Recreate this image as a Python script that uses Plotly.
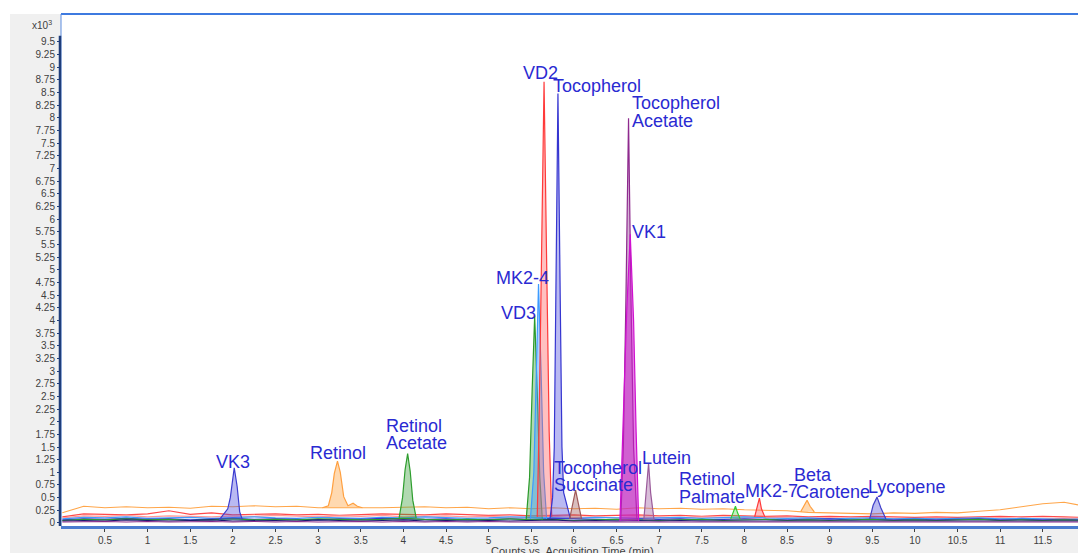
import plotly.graph_objects as go

# ---------------- data (counts x10^3 vs acquisition time, min) ----------------
base_x = [0, 0.25, 0.5, 0.75, 1, 1.25, 1.5, 1.75, 2, 2.25, 2.5, 2.75,
          3, 3.25, 3.5, 3.75, 4, 4.25, 4.5, 4.75, 5, 5.25, 5.5, 5.75,
          6, 6.25, 6.5, 6.75, 7, 7.25, 7.5, 7.75, 8, 8.25, 8.5, 8.75,
          9, 9.25, 9.5, 9.75, 10, 10.25, 10.5, 10.75, 11, 11.25, 11.5, 11.75, 12]

base_orange = [0.20, 0.33, 0.30, 0.32, 0.30, 0.31, 0.29, 0.33, 0.32, 0.34, 0.32, 0.33,
               0.30, 0.30, 0.29, 0.30, 0.31, 0.32, 0.30, 0.31, 0.28, 0.30, 0.28, 0.30,
               0.28, 0.29, 0.27, 0.30, 0.28, 0.29, 0.27, 0.28, 0.26, 0.25, 0.24, 0.21,
               0.20, 0.19, 0.18, 0.20, 0.19, 0.21, 0.20, 0.23, 0.26, 0.32, 0.38, 0.41, 0.33]
base_red = [0.12, 0.18, 0.17, 0.16, 0.18, 0.24, 0.17, 0.20, 0.16, 0.17, 0.18, 0.16,
            0.17, 0.15, 0.16, 0.18, 0.17, 0.16, 0.18, 0.17, 0.15, 0.16, 0.14, 0.15,
            0.16, 0.14, 0.15, 0.16, 0.14, 0.15, 0.13, 0.15, 0.14, 0.13, 0.14, 0.12,
            0.13, 0.12, 0.13, 0.12, 0.11, 0.12, 0.11, 0.12, 0.13, 0.12, 0.13, 0.12, 0.11]
base_pink = [0.10, 0.14, 0.13, 0.15, 0.12, 0.14, 0.13, 0.12, 0.14, 0.13, 0.15, 0.13,
             0.12, 0.14, 0.13, 0.15, 0.12, 0.13, 0.14, 0.12, 0.13, 0.11, 0.12, 0.13,
             0.11, 0.12, 0.10, 0.12, 0.11, 0.10, 0.12, 0.11, 0.10, 0.11, 0.10, 0.09,
             0.10, 0.09, 0.10, 0.09, 0.08, 0.09, 0.08, 0.09, 0.10, 0.09, 0.08, 0.09, 0.08]
base_lightblue = [0.08, 0.11, 0.10, 0.12, 0.09, 0.10, 0.11, 0.09, 0.10, 0.12, 0.10, 0.09,
                  0.11, 0.10, 0.09, 0.11, 0.10, 0.12, 0.10, 0.09, 0.10, 0.12, 0.11, 0.10,
                  0.09, 0.11, 0.10, 0.09, 0.10, 0.11, 0.09, 0.10, 0.12, 0.10, 0.09, 0.10,
                  0.08, 0.09, 0.10, 0.08, 0.09, 0.08, 0.09, 0.10, 0.08, 0.09, 0.08, 0.07, 0.08]
base_blue = [0.06, 0.08, 0.07, 0.09, 0.07, 0.08, 0.06, 0.08, 0.09, 0.07, 0.08, 0.07,
             0.06, 0.08, 0.07, 0.09, 0.08, 0.07, 0.08, 0.06, 0.07, 0.08, 0.07, 0.09,
             0.08, 0.07, 0.06, 0.08, 0.07, 0.08, 0.06, 0.07, 0.08, 0.07, 0.06, 0.07,
             0.08, 0.06, 0.07, 0.06, 0.07, 0.06, 0.07, 0.08, 0.06, 0.07, 0.06, 0.07, 0.06]
base_green = [0.05, 0.07, 0.06, 0.08, 0.06, 0.07, 0.05, 0.07, 0.08, 0.06, 0.07, 0.06,
              0.08, 0.07, 0.06, 0.07, 0.09, 0.07, 0.06, 0.07, 0.06, 0.08, 0.06, 0.07,
              0.05, 0.06, 0.07, 0.06, 0.05, 0.06, 0.07, 0.05, 0.06, 0.07, 0.05, 0.06,
              0.05, 0.06, 0.07, 0.05, 0.06, 0.05, 0.06, 0.07, 0.05, 0.06, 0.05, 0.06, 0.05]
base_navy = [0.04, 0.05, 0.04, 0.06, 0.05, 0.04, 0.05, 0.06, 0.04, 0.05, 0.05, 0.04,
             0.06, 0.05, 0.04, 0.05, 0.06, 0.04, 0.05, 0.04, 0.05, 0.04, 0.05, 0.06,
             0.04, 0.05, 0.04, 0.05, 0.04, 0.05, 0.04, 0.04, 0.05, 0.04, 0.05, 0.04,
             0.05, 0.04, 0.04, 0.05, 0.04, 0.05, 0.04, 0.05, 0.04, 0.04, 0.05, 0.04, 0.04]
base_purple = [0.02, 0.03, 0.03, 0.02, 0.03, 0.02, 0.03, 0.03, 0.02, 0.03, 0.02, 0.03,
               0.02, 0.03, 0.03, 0.02, 0.03, 0.02, 0.03, 0.02, 0.03, 0.02, 0.02, 0.03,
               0.02, 0.03, 0.02, 0.03, 0.02, 0.02, 0.03, 0.02, 0.03, 0.02, 0.02, 0.03,
               0.02, 0.03, 0.02, 0.02, 0.03, 0.02, 0.02, 0.03, 0.02, 0.02, 0.03, 0.02, 0.02]

# peaks: retention times (min) and intensities (x10^3 counts)
vk3_x = [1.84, 1.90, 1.94, 1.97, 2.00, 2.016, 2.05, 2.08, 2.11]
vk3_y = [0.06, 0.18, 0.28, 0.50, 0.90, 1.09, 0.72, 0.22, 0.07]
retinol_x = [3.05, 3.12, 3.16, 3.19, 3.227, 3.26, 3.30, 3.35, 3.41, 3.46, 3.52]
retinol_y = [0.30, 0.34, 0.60, 0.98, 1.22, 1.00, 0.52, 0.34, 0.39, 0.33, 0.30]
retac_x = [3.95, 3.99, 4.02, 4.05, 4.08, 4.11, 4.15]
retac_y = [0.10, 0.50, 1.05, 1.37, 1.02, 0.45, 0.10]
vd3_x = [5.44, 5.48, 5.51, 5.54, 5.57, 5.60, 5.63]
vd3_y = [0.06, 0.90, 2.60, 4.09, 2.60, 0.90, 0.06]
mk24_x = [5.49, 5.53, 5.56, 5.585, 5.615, 5.645, 5.68]
mk24_y = [0.08, 1.00, 3.00, 4.72, 3.00, 1.00, 0.08]
vd2_x = [5.57, 5.59, 5.62, 5.65, 5.68, 5.71, 5.74]
vd2_y = [0.12, 1.80, 5.20, 8.71, 5.20, 1.80, 0.12]
toc_x = [5.72, 5.75, 5.77, 5.79, 5.813, 5.84, 5.86, 5.88, 5.92, 5.96]
toc_y = [0.08, 0.50, 1.50, 4.60, 8.48, 4.40, 1.50, 0.60, 0.35, 0.08]
tocsuc_x = [5.95, 5.99, 6.02, 6.05, 6.09]
tocsuc_y = [0.08, 0.40, 0.65, 0.40, 0.08]
tocac_x = [6.55, 6.58, 6.61, 6.641, 6.67, 6.70, 6.74]
tocac_y = [0.06, 1.50, 4.40, 7.99, 4.40, 1.50, 0.06]
vk1_x = [6.54, 6.58, 6.62, 6.661, 6.70, 6.73, 6.76]
vk1_y = [0.04, 2.00, 4.20, 5.70, 4.00, 1.80, 0.04]
lutein_x = [6.82, 6.85, 6.876, 6.90, 6.94]
lutein_y = [0.06, 0.60, 1.18, 0.60, 0.06]
retpal_x = [7.84, 7.87, 7.895, 7.92, 7.95]
retpal_y = [0.08, 0.22, 0.33, 0.20, 0.08]
mk27_x = [8.12, 8.15, 8.176, 8.20, 8.24]
mk27_y = [0.12, 0.30, 0.49, 0.28, 0.12]
beta_x = [8.66, 8.70, 8.735, 8.77, 8.82]
beta_y = [0.22, 0.35, 0.45, 0.33, 0.22]
lyco_x = [9.47, 9.51, 9.556, 9.60, 9.66]
lyco_y = [0.08, 0.35, 0.51, 0.30, 0.08]

x_tick_vals = [0.5, 1, 1.5, 2, 2.5, 3, 3.5, 4, 4.5, 5, 5.5, 6, 6.5, 7, 7.5, 8,
               8.5, 9, 9.5, 10, 10.5, 11, 11.5]
x_tick_text = ["0.5", "1", "1.5", "2", "2.5", "3", "3.5", "4", "4.5", "5", "5.5", "6",
               "6.5", "7", "7.5", "8", "8.5", "9", "9.5", "10", "10.5", "11", "11.5"]
y_tick_vals = [0, 0.25, 0.5, 0.75, 1, 1.25, 1.5, 1.75, 2, 2.25, 2.5, 2.75, 3, 3.25,
               3.5, 3.75, 4, 4.25, 4.5, 4.75, 5, 5.25, 5.5, 5.75, 6, 6.25, 6.5, 6.75,
               7, 7.25, 7.5, 7.75, 8, 8.25, 8.5, 8.75, 9, 9.25, 9.5]
y_tick_text = ["0", "0.25", "0.5", "0.75", "1", "1.25", "1.5", "1.75", "2", "2.25",
               "2.5", "2.75", "3", "3.25", "3.5", "3.75", "4", "4.25", "4.5", "4.75",
               "5", "5.25", "5.5", "5.75", "6", "6.25", "6.5", "6.75", "7", "7.25",
               "7.5", "7.75", "8", "8.25", "8.5", "8.75", "9", "9.25", "9.5"]

# ---------------- styling ----------------
baselines = [
    (base_orange, "#ffa64a"), (base_red, "#ff4a4a"), (base_pink, "#ff9a9a"),
    (base_lightblue, "#3f9dff"), (base_blue, "#3535c8"), (base_green, "#2e9a2e"),
    (base_navy, "#1a1a70"), (base_purple, "#8a2a8a"),
]

# (x, y, line colour, fill colour, label lines, label offsets px (dx, up))
peaks = [
    (vk3_x, vk3_y, "#3c3cd0", "rgba(70,70,220,0.38)", ["VK3"], [(-18, 6)]),
    (retinol_x, retinol_y, "#ffa040", "rgba(255,170,80,0.45)", ["Retinol"], [(-27, 8)]),
    (retac_x, retac_y, "#2e9e2e", "rgba(60,160,60,0.40)", ["Retinol", "Acetate"], [(-22, 28), (-22, 11)]),
    (vd3_x, vd3_y, "#2a9a2a", "rgba(60,160,60,0.40)", ["VD3"], [(-34, 3)]),
    (mk24_x, mk24_y, "#3d9bff", "rgba(70,160,255,0.45)", ["MK2-4"], [(-43, 6)]),
    (vd2_x, vd2_y, "#ff3a3a", "rgba(255,90,90,0.38)", ["VD2"], [(-21, 9)]),
    (toc_x, toc_y, "#3535d0", "rgba(70,70,220,0.38)", ["Tocopherol"], [(-5, 8)]),
    (tocsuc_x, tocsuc_y, "#a05858", "rgba(160,90,90,0.40)", ["Tocopherol", "Succinate"], [(-22, 22), (-22, 5)]),
    (tocac_x, tocac_y, "#8e2a8e", "rgba(150,60,150,0.40)", ["Tocopherol", "Acetate"], [(3, 15), (3, -3)]),
    (vk1_x, vk1_y, "#d010d0", "rgba(205,30,205,0.55)", ["VK1"], [(2, 2)]),
    (lutein_x, lutein_y, "#9a5a9a", "rgba(170,110,170,0.45)", ["Lutein"], [(-7, 5)]),
    (retpal_x, retpal_y, "#33cc33", "rgba(80,210,80,0.35)", ["Retinol", "Palmate"], [(-56, 27), (-56, 9)]),
    (mk27_x, mk27_y, "#ff3a3a", "rgba(255,90,90,0.38)", ["MK2-7"], [(-14, 7)]),
    (beta_x, beta_y, "#ffa040", "rgba(255,170,80,0.45)", ["Beta", "Carotene"], [(-13, 25), (-11, 8)]),
    (lyco_x, lyco_y, "#4040c8", "rgba(70,70,220,0.38)", ["Lycopene"], [(-9, 10)]),
]

label_color = "#2a2ad2"
label_font = dict(family="Liberation Sans, Arial, sans-serif", size=18, color=label_color)

fig = go.Figure()
for ys, col in baselines:
    fig.add_trace(go.Scatter(x=base_x, y=ys, mode="lines",
                             line=dict(color=col, width=1.1), hoverinfo="skip"))

annotations = []
for px, py, lc, fc, lines, offs in peaks:
    fig.add_trace(go.Scatter(x=px, y=py, mode="lines", fill="toself", fillcolor=fc,
                             line=dict(color=lc, width=1.2), hoverinfo="skip"))
    i = py.index(max(py))
    for text, (dx, up) in zip(lines, offs):
        annotations.append(dict(x=px[i], y=py[i], xref="x", yref="y", text=text,
                                showarrow=False, xanchor="left", yanchor="middle",
                                xshift=dx, yshift=up, font=label_font,
                                borderpad=0, borderwidth=0))

# multiplier and axis title
annotations.append(dict(x=-0.0065, y=0.9785, xref="paper", yref="paper",
                        text="x10<sup>3</sup>", showarrow=False, xanchor="right",
                        yanchor="middle", font=dict(family="Liberation Sans, Arial",
                                                    size=10, color="#404040")))
annotations.append(dict(x=0.5025, y=-0.034, xref="paper", yref="paper",
                        text="Counts vs. Acquisition Time (min)", showarrow=False,
                        xanchor="center", yanchor="top",
                        font=dict(family="Liberation Sans, Arial", size=11, color="#404040")))

gray = "#f0f0f0"
shapes = [
    dict(type="rect", xref="paper", yref="paper", x0=-0.0502, x1=0, y0=-0.06, y1=1,
         fillcolor=gray, line=dict(width=0), layer="below"),
    dict(type="rect", xref="paper", yref="paper", x0=0, x1=1, y0=-0.06, y1=0,
         fillcolor=gray, line=dict(width=0), layer="below"),
    # frame
    dict(type="line", xref="paper", yref="paper", x0=0, x1=1.01, y0=1, y1=1,
         line=dict(color="#3d7ae0", width=2)),
    dict(type="line", xref="paper", yref="paper", x0=0, x1=0, y0=0, y1=1,
         line=dict(color="#5b8ce0", width=1)),
    dict(type="line", xref="paper", yref="y", x0=-0.001, x1=-0.001, y0=-0.06, y1=9.62,
         line=dict(color="#1f3d7a", width=2.5)),
]

fig.update_layout(
    width=1078, height=553,
    margin=dict(l=61, r=0, t=14, b=27),
    paper_bgcolor="white", plot_bgcolor="white",
    showlegend=False,
    annotations=annotations, shapes=shapes,
    font=dict(family="Liberation Sans, Arial, sans-serif", size=10, color="#404040"),
)
fig.update_xaxes(range=[-0.016, 11.913], showgrid=False, zeroline=False,
                 showline=True, linecolor="#4a7bd0", linewidth=3,
                 ticks="outside", ticklen=3, tickcolor="#404040", tickwidth=1,
                 tickvals=x_tick_vals, ticktext=x_tick_text,
                 tickfont=dict(size=10, color="#404040"))
fig.update_yaxes(range=[-0.06, 10.05], showgrid=False, zeroline=False,
                 showline=False, ticks="outside", ticklen=3, tickcolor="#1f3d7a",
                 tickwidth=1, tickvals=y_tick_vals, ticktext=y_tick_text,
                 tickfont=dict(size=10, color="#404040"))

fig.write_html("out.html", config={"displayModeBar": False},
               post_script="document.body.style.margin='0px';document.body.style.overflow='hidden';")
